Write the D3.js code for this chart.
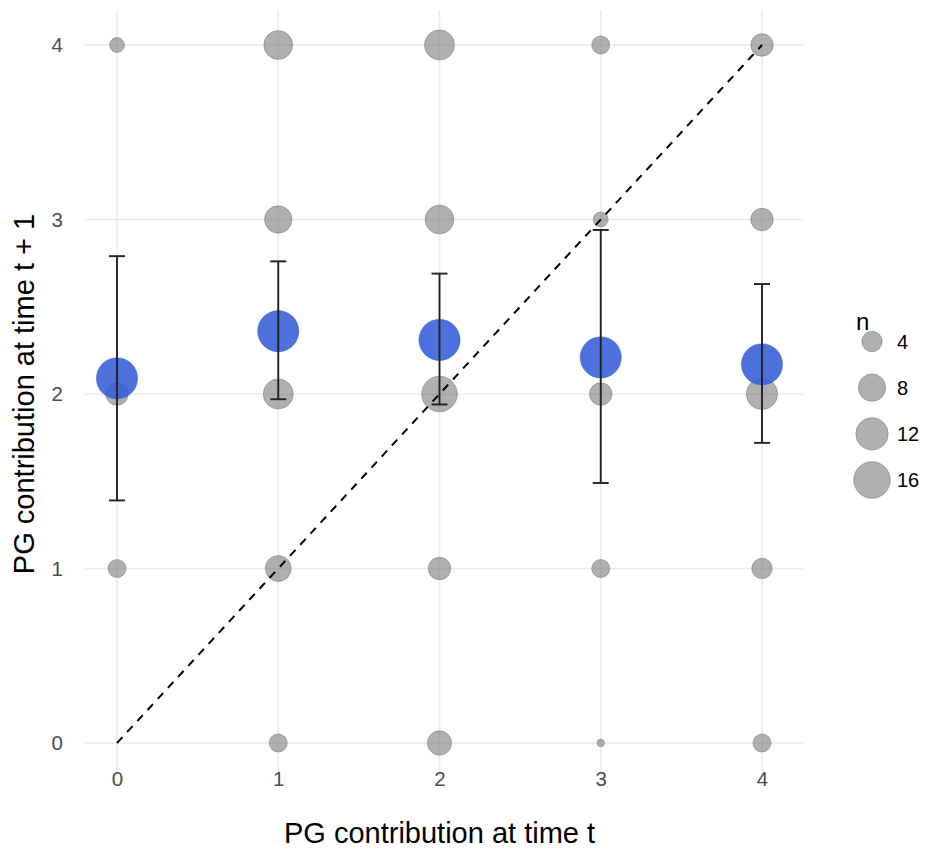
<!DOCTYPE html>
<html><head><meta charset="utf-8">
<script src="https://cdn.jsdelivr.net/npm/d3@7"></script>
<style>body{margin:0;background:#fff;} text{font-family:Arial, "Liberation Sans", sans-serif;}</style>
</head><body>
<script>
// Grey points: counts n at (x = contribution at t, y = contribution at t+1)
const pointX = [0,1,2,3,4, 1,2,3,4, 0,1,2,3,4, 0,1,2,3,4, 1,2,3,4];
const pointY = [4,4,4,4,4, 3,3,3,3, 2,2,2,2,2, 1,1,1,1,1, 0,0,0,0];
const pointN = [2,9,10,3,5, 8,9,2,5, 5,10,15,5,11, 3,7,5,3,4, 3,6,1,3];
// Means with error bars
const meanX = [0,1,2,3,4];
const meanY = [2.09,2.36,2.31,2.21,2.17];
const errLow = [1.39,1.97,1.94,1.49,1.72];
const errHigh = [2.79,2.76,2.69,2.94,2.63];
const ticks = [0,1,2,3,4];
const legendN = [4,8,12,16];

const W = 927, H = 848;
const svg = d3.select("body").append("svg").attr("width", W).attr("height", H);

const x = d3.scaleLinear().domain([0,4]).range([117,762]);
const y = d3.scaleLinear().domain([0,4]).range([743,45]);
const panel = {l:85, r:803, t:10, b:776};

const sizeS = d3.scaleSqrt().domain([0,15]).range([0,14.6]);
const rad = n => 3.7 + sizeS(n - 1);

// grid
const g = svg.append("g");
g.selectAll(".gx").data(ticks).join("line")
  .attr("x1", d=>x(d)).attr("x2", d=>x(d)).attr("y1", panel.t).attr("y2", panel.b)
  .attr("stroke", "#ebebeb").attr("stroke-width", 1.6);
g.selectAll(".gy").data(ticks).join("line")
  .attr("y1", d=>y(d)).attr("y2", d=>y(d)).attr("x1", panel.l).attr("x2", panel.r)
  .attr("stroke", "#ebebeb").attr("stroke-width", 1.6);

// axes (no lines)
const fmt = d3.format("d");
const xa = svg.append("g").attr("transform", `translate(0,${panel.b - 8})`)
  .call(d3.axisBottom(x).tickValues(ticks).tickFormat(fmt).tickSize(0).tickPadding(3));
const ya = svg.append("g").attr("transform", `translate(${panel.l},0)`)
  .call(d3.axisLeft(y).tickValues(ticks).tickFormat(fmt).tickSize(0).tickPadding(22));
[xa, ya].forEach(a => {
  a.attr("font-size", null).attr("font-family", null);
  a.select(".domain").remove();
  a.selectAll("text").attr("fill", "#4d4d4d").style("font-size", "20.5px")
    .style("font-family", "Arial, 'Liberation Sans', sans-serif");
});

// grey points
const pts = pointX.map((v,i)=>({x:v, y:pointY[i], n:pointN[i]}));
svg.append("g").selectAll("circle").data(pts).join("circle")
  .attr("cx", d=>x(d.x)).attr("cy", d=>y(d.y)).attr("r", d=>rad(d.n))
  .attr("fill", "rgba(128,128,128,0.62)").attr("stroke", "rgba(100,100,100,0.55)").attr("stroke-width", 0.8);

// diagonal
svg.append("line").attr("x1", x(0)).attr("y1", y(0)).attr("x2", x(4)).attr("y2", y(4))
  .attr("stroke", "#000").attr("stroke-width", 2).attr("stroke-dasharray", "8,7");

// blue means
const means = meanX.map((v,i)=>({x:v, m:meanY[i], lo:errLow[i], hi:errHigh[i]}));
svg.append("g").selectAll("circle").data(means).join("circle")
  .attr("cx", d=>x(d.x)).attr("cy", d=>y(d.m)).attr("r", 20.6)
  .attr("fill", "rgba(52,92,215,0.88)").attr("stroke", "rgba(52,92,215,0.6)").attr("stroke-width", 0.8);

// error bars
const eb = svg.append("g").attr("stroke", "#222").attr("stroke-width", 1.9);
eb.selectAll(".v").data(means).join("line")
  .attr("x1", d=>x(d.x)).attr("x2", d=>x(d.x)).attr("y1", d=>y(d.lo)).attr("y2", d=>y(d.hi));
eb.selectAll(".t").data(means).join("line")
  .attr("x1", d=>x(d.x)-8).attr("x2", d=>x(d.x)+8).attr("y1", d=>y(d.hi)).attr("y2", d=>y(d.hi));
eb.selectAll(".b").data(means).join("line")
  .attr("x1", d=>x(d.x)-8).attr("x2", d=>x(d.x)+8).attr("y1", d=>y(d.lo)).attr("y2", d=>y(d.lo));

// axis titles
svg.append("text").attr("x", (x(0)+x(4))/2).attr("y", 843).attr("text-anchor", "middle")
  .style("font-size", "29px").attr("fill", "#000").text("PG contribution at time t");
svg.append("text").attr("transform", `translate(34,${(y(0)+y(4))/2}) rotate(-90)`).attr("text-anchor", "middle")
  .style("font-size", "29px").attr("fill", "#000").text("PG contribution at time t + 1");

// legend
const lg = svg.append("g");
lg.append("text").attr("x", 856).attr("y", 330).style("font-size", "24px").attr("fill", "#000").text("n");
const ly = d3.scalePoint().domain(legendN).range([341.5, 480]);
lg.selectAll("circle").data(legendN).join("circle")
  .attr("cx", 872).attr("cy", d=>ly(d)).attr("r", d=>rad(d))
  .attr("fill", "rgba(128,128,128,0.62)").attr("stroke", "rgba(100,100,100,0.55)").attr("stroke-width", 0.8);
lg.selectAll(".lt").data(legendN).join("text")
  .attr("x", 897).attr("y", d=>ly(d)+7).style("font-size", "20px").attr("fill", "#000").text(d=>d);
</script>
</body></html>
